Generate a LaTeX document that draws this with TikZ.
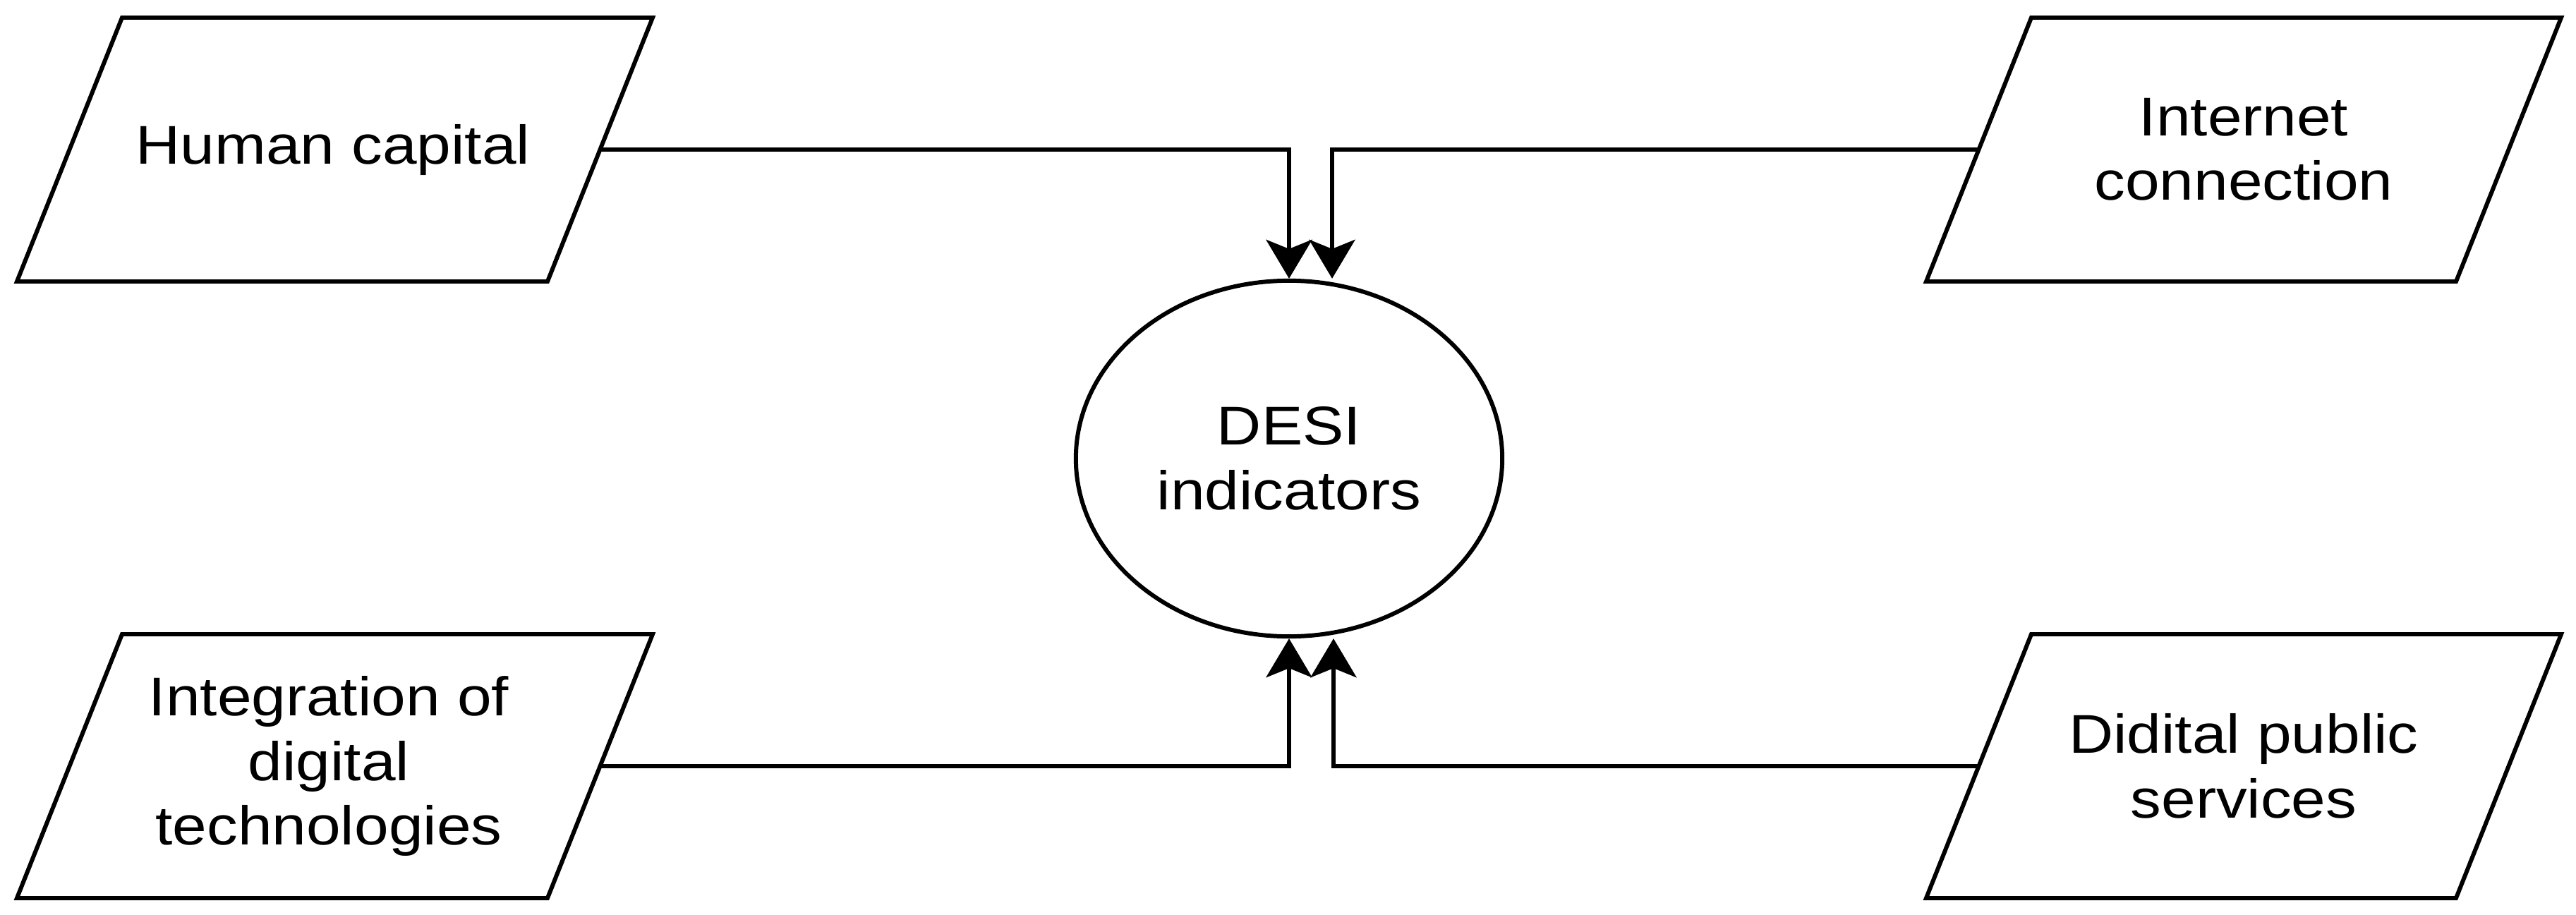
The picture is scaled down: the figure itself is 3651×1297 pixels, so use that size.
\documentclass[tikz,border=0pt]{standalone}
\usepackage{fontspec}
\setmainfont{Liberation Sans}[FakeStretch=1.13]
\usetikzlibrary{arrows.meta,shapes.geometric,calc}
\begin{document}
\begin{tikzpicture}[x=0.01cm,y=-0.01cm,
  outline/.style={draw=black,line width=1.7pt,line join=miter},
  lbl/.style={font=\fontsize{22pt}{26pt}\selectfont,align=center,inner sep=0pt},
  conn/.style={draw=black,line width=1.7pt,-{Stealth[length=0.55cm,width=0.65cm,inset=0.13cm]}},
  hub/.style={ellipse,draw=black,line width=1.7pt,minimum width=6.04cm,minimum height=5.04cm,inner sep=0pt,align=center,font=\fontsize{22pt}{26pt}\selectfont}]
\fill[white] (0,0) rectangle (3651,1297);
\useasboundingbox (0,0) rectangle (3651,1297);

% parallelograms
\draw[outline] (173,25) -- (925,25) -- (776,399) -- (24,399) -- cycle;
\draw[outline] (2879,25) -- (3630,25) -- (3481,399) -- (2730,399) -- cycle;
\draw[outline] (173,899) -- (925,899) -- (776,1273) -- (24,1273) -- cycle;
\draw[outline] (2879,899) -- (3630,899) -- (3481,1273) -- (2730,1273) -- cycle;

\node[lbl] (hc) at (472,212) {Human capital};
\node[lbl] (ic) at (3180,212) {Internet\\connection};
\node[lbl] (it) at (466,1086) {Integration of\\digital\\technologies};
\node[lbl] (dp) at (3180,1086) {Didital public\\services};

\coordinate (hcE) at (850,212);
\coordinate (icW) at (2805,212);
\coordinate (itE) at (850,1086);
\coordinate (dpW) at (2805,1086);

\node[hub] (desi) at (1827,650) {DESI\\indicators};

\draw[conn] (hcE) -| (desi.north);
\draw[conn] (icW) -| ($(desi.north)+(61,0)$);
\draw[conn] (itE) -| (desi.south);
\draw[conn] (dpW) -| ($(desi.south)+(63,0)$);
\end{tikzpicture}
\end{document}
